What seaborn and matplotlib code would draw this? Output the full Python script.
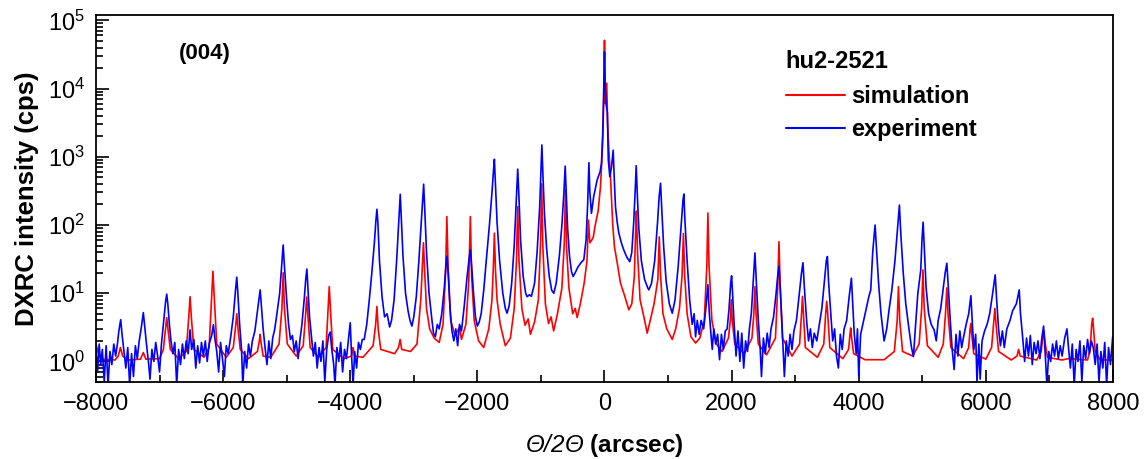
import numpy as np
import pandas as pd
import matplotlib
matplotlib.use("Agg")
import matplotlib.pyplot as plt
import seaborn as sns
from matplotlib.lines import Line2D
from matplotlib.ticker import LogLocator, MultipleLocator, NullFormatter

# Simulated rocking curve (arcsec, cps)
sim_left = [
    (-8000, 1.8), (-7960, 1.3), (-7900, 1.08), (-7700, 1.05), (-7650, 1.2), (-7615, 1.6), (-7580, 1.2),
    (-7500, 1.05), (-7300, 1.08), (-7255, 1.35), (-7215, 1.08), (-7000, 1.1), (-6940, 1.5), (-6905, 3.0),
    (-6887, 4.4), (-6868, 3.0), (-6830, 1.5), (-6700, 1.1), (-6580, 1.4), (-6540, 4.5), (-6520, 8.9),
    (-6500, 4.5), (-6460, 1.5), (-6300, 1.15), (-6220, 1.6), (-6180, 9), (-6160, 21), (-6140, 9),
    (-6100, 1.8), (-5950, 1.15), (-5840, 1.6), (-5800, 3.5), (-5785, 5.0), (-5765, 3.0), (-5730, 1.5),
    (-5600, 1.1), (-5460, 1.4), (-5430, 2.0), (-5417, 2.5), (-5400, 1.8), (-5370, 1.2), (-5250, 1.15),
    (-5120, 1.8), (-5075, 6), (-5055, 20), (-5035, 6), (-4990, 1.8), (-4850, 1.2), (-4740, 1.7),
    (-4705, 4.5), (-4685, 8.8), (-4665, 4.5), (-4630, 1.6), (-4500, 1.15), (-4380, 1.6), (-4350, 5.5),
    (-4330, 12.5), (-4310, 5.5), (-4275, 1.5), (-4100, 1.1), (-3980, 1.2), (-3955, 1.6), (-3935, 1.2),
    (-3800, 1.15),
]
sim_mid = [
    (-3640, 1.7), (-3600, 3.5), (-3580, 6.4), (-3560, 3.0), (-3520, 1.5), (-3300, 1.3), (-3240, 1.6),
    (-3215, 2.1), (-3190, 1.5), (-3050, 1.4), (-2950, 1.8), (-2890, 8), (-2865, 25), (-2848, 55),
    (-2830, 22), (-2800, 6), (-2750, 3), (-2680, 2.2), (-2600, 1.9), (-2540, 3.5), (-2500, 20),
    (-2480, 133), (-2460, 25), (-2420, 4), (-2350, 2.4), (-2280, 3.2), (-2250, 2.1), (-2180, 3.5),
    (-2135, 15), (-2110, 133), (-2090, 18), (-2050, 4), (-1980, 2), (-1900, 1.6), (-1820, 3),
    (-1770, 8), (-1748, 25), (-1732, 76), (-1715, 22), (-1690, 8), (-1640, 3.5), (-1560, 1.7),
    (-1480, 2.2), (-1420, 6), (-1385, 30), (-1365, 186), (-1345, 30), (-1300, 6), (-1250, 3.4),
    (-1200, 4.2), (-1165, 2.5), (-1100, 3.8), (-1040, 8), (-1005, 60), (-988, 400), (-970, 50),
    (-930, 7), (-880, 3.6), (-840, 4.5), (-800, 2.8), (-740, 5), (-670, 12), (-632, 55), (-614, 330),
    (-595, 45), (-560, 12), (-500, 5), (-460, 6), (-430, 4.4), (-380, 7), (-320, 14), (-275, 30),
    (-252, 118), (-230, 55), (-200, 60), (-175, 67), (-150, 95), (-100, 160), (-63, 365), (-30, 1500),
    (-10, 8000), (0, 51000), (15, 6000), (35, 12000), (50, 3000), (70, 1200), (95, 500), (130, 100),
    (157, 48), (200, 28), (252, 14), (320, 9), (383, 5.7), (430, 7), (470, 18), (490, 80), (502, 160),
    (520, 40), (560, 8), (620, 4.5), (672, 2.6), (720, 4), (780, 7), (840, 16), (862, 67), (880, 20),
    (920, 5), (980, 3), (1066, 2.1), (1120, 3), (1180, 6), (1220, 18), (1242, 75), (1262, 18),
    (1300, 5), (1360, 2.3), (1433, 1.86), (1500, 2.2), (1570, 4), (1610, 25), (1627, 150), (1645, 25),
    (1690, 4),
]
sim_right = [
    (1760, 1.8), (1850, 1.4), (1950, 2.2), (1980, 4), (1995, 8), (2010, 4), (2050, 1.8), (2200, 1.3),
    (2320, 2.2), (2350, 5), (2367, 12.5), (2385, 5), (2420, 1.8), (2550, 1.25), (2690, 2.2), (2725, 12),
    (2745, 57), (2765, 12), (2800, 2.2), (2950, 1.2), (3070, 1.8), (3100, 5), (3115, 9), (3130, 5),
    (3160, 1.6), (3350, 1.15), (3450, 1.8), (3480, 5), (3496, 7.6), (3512, 5), (3545, 1.6), (3750, 1.1),
    (3840, 1.5), (3862, 2.5), (3874, 3.1), (3888, 2.2), (3920, 1.3), (4100, 1.06), (4400, 1.06),
    (4560, 1.4), (4605, 4), (4625, 12.5), (4645, 4), (4690, 1.4), (4850, 1.2), (4950, 1.8), (4990, 6),
    (5010, 22), (5030, 6), (5080, 1.7), (5250, 1.15), (5330, 1.8), (5365, 5), (5386, 12), (5405, 5),
    (5450, 1.6), (5650, 1.1), (5730, 1.6), (5752, 3.0), (5764, 3.6), (5778, 2.5), (5810, 1.3),
    (6000, 1.08), (6090, 1.6), (6125, 4), (6142, 6), (6160, 3.5), (6200, 1.4), (6400, 1.05),
    (6490, 1.2), (6515, 1.5), (6540, 1.2), (6800, 1.05), (6870, 1.4), (6900, 2.4), (6915, 2.75),
    (6935, 1.8), (6970, 1.15), (7200, 1.05), (7300, 1.1), (7600, 1.05), (7640, 1.5), (7665, 3.5),
    (7680, 4.3), (7695, 3.0), (7720, 1.4), (7800, 1.05), (8000, 1.05),
]

exp_left = [
    (-8000, 1.6), (-7975, 0.7), (-7950, 1.8), (-7925, 0.9), (-7900, 1.5), (-7870, 0.5), (-7840, 1.7),
    (-7810, 0.45), (-7780, 1.4), (-7750, 0.9), (-7720, 1.8), (-7690, 1.2), (-7660, 1.9), (-7640, 2.8),
    (-7611, 4.1), (-7590, 2.5), (-7560, 1.4), (-7530, 0.8), (-7500, 1.6), (-7470, 0.45), (-7440, 1.3),
    (-7410, 0.6), (-7380, 1.7), (-7350, 1.1), (-7320, 2.0), (-7290, 3.0), (-7255, 5.2), (-7230, 3.0),
    (-7200, 1.6), (-7170, 0.9), (-7150, 0.55), (-7120, 1.5), (-7090, 1.0), (-7060, 1.9), (-7030, 1.2),
    (-7000, 0.7), (-6970, 1.8), (-6940, 3.5), (-6905, 7.5), (-6887, 9.7), (-6870, 7), (-6845, 3.5),
    (-6820, 2.0), (-6790, 1.3), (-6760, 1.9), (-6730, 0.45), (-6700, 1.5), (-6670, 0.9), (-6640, 1.8),
    (-6610, 1.1), (-6580, 2.0), (-6550, 1.3), (-6520, 2.9), (-6495, 1.5), (-6460, 2.1), (-6430, 0.8),
    (-6400, 1.7), (-6370, 0.95), (-6340, 1.9), (-6310, 1.2), (-6280, 2.0), (-6250, 1.0), (-6220, 1.8),
    (-6180, 2.4), (-6153, 3.45), (-6130, 2.2), (-6100, 1.4), (-6070, 0.7), (-6040, 1.9), (-6010, 1.1),
    (-5980, 0.6), (-5950, 1.7), (-5920, 1.3), (-5880, 2.3), (-5840, 4.5), (-5805, 11), (-5785, 17.2),
    (-5768, 10), (-5740, 3.5), (-5710, 1.5), (-5690, 0.45), (-5660, 1.4), (-5630, 0.8), (-5600, 1.8),
    (-5570, 1.2), (-5540, 2.0), (-5500, 2.8), (-5460, 5.5), (-5430, 9), (-5417, 11.2), (-5400, 7),
    (-5370, 3), (-5340, 1.6), (-5310, 0.9), (-5280, 2.0), (-5250, 1.1), (-5220, 2.2), (-5190, 2.9),
    (-5160, 4.5), (-5110, 10), (-5075, 28), (-5055, 51), (-5035, 25), (-5000, 8), (-4970, 3.5),
    (-4940, 2.1), (-4910, 2.4), (-4880, 1.4), (-4850, 2.0), (-4820, 1.1), (-4790, 2.1), (-4760, 3.5),
    (-4720, 9), (-4700, 16), (-4682, 22.6), (-4665, 12), (-4640, 4.5), (-4610, 2.3), (-4580, 1.2),
    (-4550, 1.9), (-4520, 0.8), (-4490, 1.6), (-4460, 1.0), (-4430, 2.0), (-4400, 0.5), (-4370, 1.5),
    (-4340, 2.4), (-4315, 2.7), (-4290, 1.5), (-4260, 0.9), (-4240, 0.45), (-4210, 1.6), (-4180, 1.0),
    (-4150, 1.9), (-4120, 0.7), (-4090, 1.5), (-4060, 1.1), (-4030, 2.0), (-4000, 3.7), (-3980, 1.3),
    (-3955, 0.45), (-3930, 1.4), (-3900, 0.8), (-3870, 1.9), (-3840, 1.5), (-3810, 2.1),
]
exp_mid = [
    (-3780, 2.1), (-3740, 3.5), (-3700, 8), (-3660, 20), (-3620, 55), (-3595, 120), (-3580, 170),
    (-3565, 110), (-3540, 30), (-3500, 9), (-3460, 4.5), (-3420, 5), (-3380, 3.2), (-3350, 4),
    (-3310, 8), (-3270, 30), (-3240, 100), (-3213, 282), (-3195, 120), (-3170, 35), (-3130, 10),
    (-3090, 5.5), (-3060, 4.0), (-3030, 3.3), (-3000, 4.5), (-2960, 9), (-2920, 30), (-2880, 120),
    (-2845, 397), (-2825, 150), (-2800, 40), (-2760, 10), (-2720, 4.5), (-2690, 2.6), (-2661, 2.3),
    (-2630, 3.5), (-2600, 3.0), (-2560, 5), (-2520, 12), (-2495, 25), (-2478, 35), (-2460, 20),
    (-2430, 6), (-2400, 2.8), (-2370, 2.0), (-2340, 3.0), (-2310, 1.7), (-2280, 3.5), (-2250, 2.8),
    (-2210, 6), (-2160, 18), (-2125, 35), (-2110, 43), (-2090, 25), (-2060, 10), (-2030, 4.5),
    (-2000, 3.3), (-1970, 3.8), (-1940, 5), (-1900, 11), (-1860, 30), (-1810, 100), (-1770, 300),
    (-1745, 650), (-1732, 920), (-1715, 400), (-1690, 110), (-1650, 30), (-1600, 10), (-1560, 6),
    (-1533, 5.1), (-1500, 6.5), (-1460, 14), (-1420, 50), (-1390, 200), (-1365, 660), (-1345, 250),
    (-1320, 60), (-1280, 18), (-1240, 10), (-1217, 8.9), (-1180, 9.5), (-1150, 9), (-1100, 14),
    (-1060, 40), (-1020, 180), (-995, 800), (-985, 1490), (-970, 600), (-945, 150), (-910, 45),
    (-870, 18), (-830, 11), (-797, 10), (-760, 14), (-710, 35), (-670, 100), (-640, 280), (-618, 730),
    (-600, 280), (-580, 90), (-550, 35), (-520, 21), (-494, 17.6), (-460, 20), (-420, 24), (-370, 28),
    (-325, 31), (-290, 60), (-265, 200), (-245, 820), (-230, 300), (-205, 148), (-170, 260),
    (-115, 460), (-70, 600), (-47, 800), (-25, 2500), (-10, 12000), (0, 34700), (12, 10000),
    (30, 5500), (45, 4500), (60, 900), (84, 510), (110, 700), (137, 1250), (155, 450), (173, 186),
    (200, 110), (226, 76), (265, 55), (304, 43), (350, 34), (398, 29), (430, 40), (460, 110),
    (485, 350), (499, 740), (515, 300), (540, 90), (580, 30), (630, 16), (680, 12), (698, 11.2),
    (740, 14), (790, 30), (835, 110), (860, 260), (882, 410), (900, 180), (930, 50), (970, 15),
    (1020, 7), (1066, 5.1), (1110, 8), (1160, 25), (1210, 110), (1235, 230), (1249, 285), (1265, 120),
    (1300, 30), (1340, 8), (1380, 3.5), (1410, 5), (1433, 2.3), (1460, 4), (1490, 2.5), (1520, 4),
    (1560, 3), (1595, 6), (1627, 13.3), (1650, 5), (1680, 2.2), (1696, 1.5),
]
exp_right = [
    (1720, 3.0), (1750, 1.8), (1780, 2.5), (1810, 1.06), (1840, 2.5), (1870, 1.5), (1900, 2.8),
    (1930, 3.0), (1960, 6), (1985, 14), (2000, 18), (2015, 10), (2040, 3.5), (2070, 1.2), (2100, 2.8),
    (2130, 1.0), (2160, 2.6), (2190, 0.8), (2220, 2.0), (2250, 1.4), (2280, 3.0), (2310, 5), (2340, 15),
    (2367, 39), (2390, 14), (2420, 4), (2450, 1.5), (2470, 0.6), (2500, 2.2), (2530, 1.3), (2560, 2.6),
    (2590, 1.6), (2620, 3.0), (2660, 4.5), (2700, 10), (2725, 18), (2745, 25), (2765, 12), (2790, 4),
    (2810, 1.5), (2830, 0.6), (2860, 2.0), (2890, 1.2), (2920, 2.5), (2950, 1.5), (2980, 2.8),
    (3020, 4), (3060, 9), (3100, 20), (3123, 28), (3145, 12), (3180, 4), (3210, 2.0), (3240, 3.0),
    (3270, 1.6), (3300, 2.6), (3340, 2.0), (3380, 3.5), (3420, 6), (3460, 15), (3490, 30),
    (3507, 34.5), (3525, 15), (3560, 5), (3590, 2.0), (3620, 3.0), (3650, 1.2), (3680, 0.8),
    (3710, 2.5), (3740, 1.5), (3770, 3), (3810, 4), (3850, 9), (3885, 16.6), (3905, 7), (3930, 2.5),
    (3960, 1.3), (3980, 3), (4000, 0.6), (4030, 2.5), (4070, 3.7), (4120, 6), (4160, 9), (4189, 11.2),
    (4220, 40), (4257, 100), (4280, 45), (4310, 15), (4350, 5), (4399, 2.0), (4440, 3), (4480, 6),
    (4520, 11), (4570, 30), (4610, 90), (4640, 196), (4660, 80), (4700, 20), (4740, 7), (4790, 3),
    (4830, 1.6), (4861, 1.18), (4890, 3), (4930, 10), (4976, 22), (4995, 60), (5013, 110), (5030, 50),
    (5060, 12), (5100, 5), (5140, 3.5), (5186, 2.9), (5220, 2.0), (5250, 4), (5290, 6), (5330, 12),
    (5360, 20), (5386, 27.5), (5410, 12), (5440, 4), (5470, 1.5), (5501, 0.76), (5530, 2.5),
    (5560, 1.2), (5590, 2.8), (5620, 1.6), (5650, 2.3), (5690, 3.5), (5730, 5), (5764, 9.2), (5785, 4),
    (5810, 1.5), (5840, 2.5), (5860, 0.5), (5890, 1.8), (5910, 0.55), (5940, 2.0), (5980, 2.8),
    (6020, 3.5), (6060, 5), (6100, 9), (6147, 18.6), (6170, 8), (6200, 3), (6230, 1.7), (6260, 2.8),
    (6290, 1.6), (6330, 3), (6380, 4), (6420, 5.5), (6480, 7), (6525, 11.2), (6545, 5), (6580, 2.2),
    (6610, 1.0), (6640, 2.2), (6670, 1.2), (6700, 2.4), (6730, 0.9), (6760, 1.9), (6790, 1.3),
    (6820, 2.0), (6850, 1.1), (6880, 2.2), (6908, 3.3), (6930, 1.5), (6960, 0.45), (6990, 1.4),
    (7020, 1.0), (7050, 1.8), (7080, 1.2), (7110, 2.0), (7140, 1.1), (7170, 1.7), (7200, 1.2),
    (7240, 2.2), (7276, 3.0), (7300, 1.6), (7330, 0.8), (7360, 1.8), (7390, 0.45), (7420, 1.5),
    (7450, 1.0), (7480, 2.0), (7510, 0.5), (7540, 1.7), (7570, 1.1), (7600, 2.1), (7630, 1.3),
    (7660, 2.0), (7690, 1.6), (7720, 0.9), (7750, 1.8), (7780, 0.5), (7810, 1.4), (7840, 0.8),
    (7870, 1.9), (7900, 0.45), (7930, 1.6), (7960, 0.9), (7995, 2.3),
]

series_names = ["simulation", "experiment"]
series_colors = {"simulation": "#ff0000", "experiment": "#0000ff"}
sample_name = "hu2-2521"
reflection = "(004)"

sns.set_theme(style="ticks")
plt.rcParams["font.family"] = ["Liberation Sans", "DejaVu Sans"]
plt.rcParams["mathtext.fontset"] = "custom"
plt.rcParams["mathtext.rm"] = "Liberation Sans:italic"
plt.rcParams["mathtext.it"] = "Liberation Sans:italic"
for key in ("text.color", "axes.labelcolor", "xtick.color", "ytick.color", "axes.edgecolor"):
    plt.rcParams[key] = "black"

rows = []
for name, parts in (("simulation", [sim_left, sim_mid, sim_right]),
                    ("experiment", [exp_left, exp_mid, exp_right])):
    for part in parts:
        for x, y in part:
            rows.append({"theta": x, "cps": y, "curve": name})
df = pd.DataFrame(rows)

fig = plt.figure(figsize=(11.48, 4.59), dpi=100)
ax = fig.add_axes([0.0836, 0.1678, 0.8859, 0.7996])

sns.lineplot(data=df, x="theta", y="cps", hue="curve", hue_order=series_names,
             palette=series_colors, estimator=None, sort=False, linewidth=1.2,
             legend=False, ax=ax)

ax.set_yscale("log")
ax.set_xlim(-8000, 8000)
ax.set_ylim(0.5, 1.2e5)

ax.xaxis.set_major_locator(MultipleLocator(2000))
ax.xaxis.set_minor_locator(MultipleLocator(1000))
ax.yaxis.set_major_locator(LogLocator(base=10, numticks=10))
ax.yaxis.set_minor_locator(LogLocator(base=10, subs=np.arange(2, 10), numticks=20))
ax.yaxis.set_minor_formatter(NullFormatter())

ax.tick_params(which="both", direction="in", top=False, right=False, width=1.2, colors="black")
ax.tick_params(which="major", length=9, labelsize=17, pad=8)
ax.tick_params(which="minor", length=5)
for s in ax.spines.values():
    s.set_linewidth(1.3)
    s.set_color("black")

ax.set_ylabel("DXRC intensity (cps)", fontsize=18.5, fontweight="bold", labelpad=6)
ax.set_xlabel(r"$\mathrm{\Theta/2\Theta}$ (arcsec)", fontsize=17.5, fontweight="bold", labelpad=12)

ax.text(0.107, 0.895, reflection, transform=ax.transAxes, ha="center", va="center",
        fontsize=16, fontweight="bold")

handles = [Line2D([], [], color=series_colors[n], lw=1.5) for n in series_names]
leg = ax.legend(handles, series_names, title=sample_name, loc="upper left",
                bbox_to_anchor=(0.678, 0.905), frameon=False, handlelength=2.5,
                handletextpad=0.3, labelspacing=0.42, borderpad=0, borderaxespad=0,
                prop={"size": 17, "weight": "bold"},
                title_fontproperties={"size": 17, "weight": "bold"})
leg._legend_box.align = "left"
leg._legend_box.sep = 9

fig.savefig("out.png", dpi=100)
